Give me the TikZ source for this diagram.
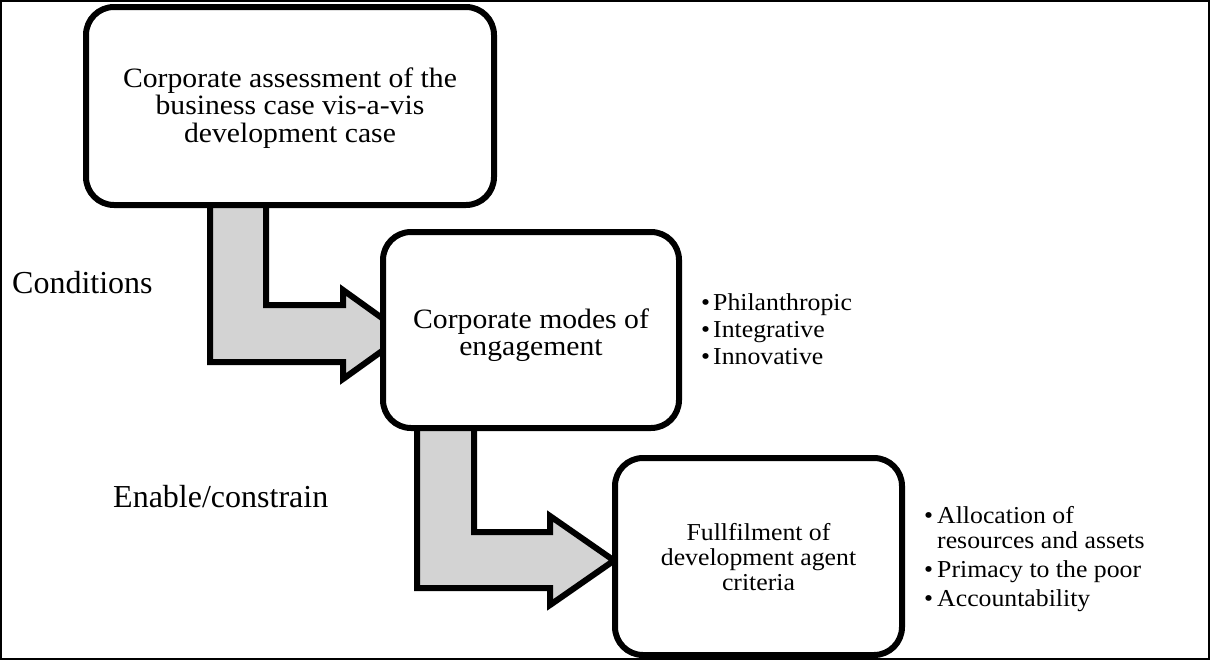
\documentclass[tikz,border=0pt]{standalone}
\usepackage{fontspec}
\setmainfont{Liberation Serif}[FakeStretch=1.06]
\newfontfamily\tnr{Liberation Serif}
\usetikzlibrary{shadows,calc}
\definecolor{arrowgray}{HTML}{D3D3D3}
\pgfdeclarelayer{background}
\pgfsetlayers{background,main}
\begin{document}
\begin{tikzpicture}[x=1pt,y=-1pt,
  box/.style={draw=black, line width=6pt, rounded corners=28pt, fill=white,
    inner sep=0pt, outer sep=0pt,
    drop shadow={shadow xshift=2pt, shadow yshift=-2.5pt, opacity=0.22, fill=black}},
  bent/.style={draw=black, line width=6pt, fill=arrowgray, line join=miter,
    drop shadow={shadow xshift=2pt, shadow yshift=-2.5pt, opacity=0.22, fill=black}},
  bigtxt/.style={font=\fontsize{28}{27.5}\selectfont, align=center, inner sep=0pt},
  smalltxt/.style={font=\fontsize{24.3}{25}\selectfont, align=center, inner sep=0pt},
  lbl/.style={font=\tnr\fontsize{32}{34}\selectfont, anchor=base west, inner sep=0pt},
  lst/.style={font=\fontsize{24.3}{25}\selectfont, anchor=base west, inner sep=0pt}
]
\useasboundingbox (0,0) rectangle (1212,664);

% boxes
\node[box, minimum width=408pt, minimum height=198pt] (b1) at (290,106) {};
\node[box, minimum width=296pt, minimum height=196pt] (b2) at (531,330) {};
\node[box, minimum width=287pt, minimum height=197pt] (b3) at (758.5,556.5) {};

% box texts
\node[bigtxt] (t1) at ($(b1.center)+(0,2)$)
  {Corporate assessment of the\\business case vis-a-vis\\development case};
\node[bigtxt] (t2) at ($(b2.center)+(0,5)$)
  {Corporate modes of\\engagement};
\node[smalltxt] (t3) at ($(b3.center)+(0,1)$)
  {Fullfilment of\\development agent\\criteria};

% bent arrows, behind the boxes
\begin{pgfonlayer}{background}
\fill[white] (0,0) rectangle (1212,664);
\draw[bent] ($(b1.south)+(-80,-25)$) |- ($(b2.west)+(-40,32)$) -- ++(0,17)
  -- ($(b2.west)+(22,4.5)$) -- ($(b2.west)+(-40,-40)$) -- ++(0,15)
  -| ($(b1.south)+(-24,-25)$) -- cycle;
\draw[bent] ($(b2.south)+(-114,-18)$) |- ($(b3.west)+(-65,31.5)$) -- ++(0,17)
  -- ($(b3.west)+(-1,4)$) -- ($(b3.west)+(-65,-40.5)$) -- ++(0,16)
  -| ($(b2.south)+(-57,-18)$) -- cycle;
\end{pgfonlayer}

% side labels
\node[lbl] (cond) at (12,293) {Conditions};
\node[lbl] (enab) at (113,507) {Enable/constrain};

% bullet lists
\node[lst] (modes) at (701,310) {\begin{tabular}[t]{@{}l@{\hspace{3pt}}l@{}}
  •&Philanthropic\\[2pt]
  •&Integrative\\[2pt]
  •&Innovative
\end{tabular}};
\node[lst] (crit) at (924,523) {\begin{tabular}[t]{@{}l@{\hspace{4pt}}l@{}}
  •&Allocation of\\
   &resources and assets\\[4pt]
  •&Primacy to the poor\\[4pt]
  •&Accountability
\end{tabular}};

% outer frame
\draw[line width=1.4pt] (1,1) rectangle (1209,659);
\end{tikzpicture}
\end{document}
